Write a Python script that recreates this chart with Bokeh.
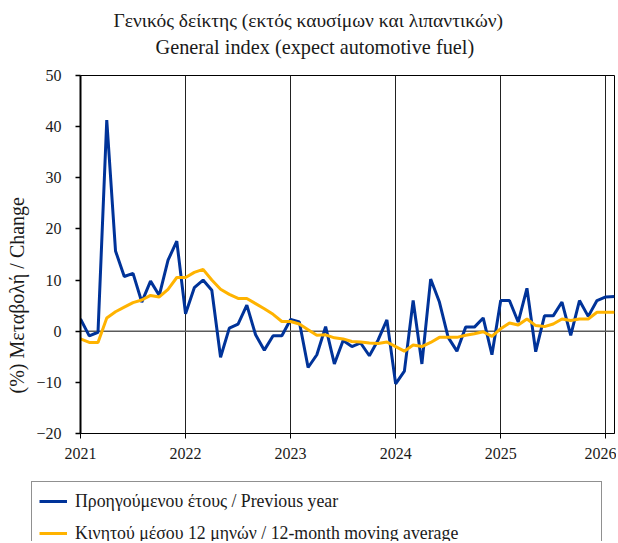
from bokeh.plotting import figure
from bokeh.layouts import column
from bokeh.models import Range1d, FixedTicker, Span, Title, Legend, LegendItem
from bokeh.embed import file_html
from bokeh.resources import INLINE

# ---------------- data ----------------
months = [f"{y}-{m:02d}" for y in range(2021, 2027) for m in range(1, 13)][:62]

previous_year = [
    2.4, -0.9, -0.2, 41.3, 15.7, 10.7, 11.3, 5.7, 9.8, 7.0, 13.9, 17.6,     # 2021
    3.4, 8.5, 10.0, 8.0, -5.1, 0.6, 1.4, 5.1, -0.7, -3.7, -0.9, -0.9,       # 2022
    2.3, 1.8, -7.1, -4.6, 0.9, -6.4, -1.8, -3.0, -2.3, -4.8, -1.7, 2.2,     # 2023
    -10.3, -7.8, 6.0, -6.4, 10.2, 5.7, -1.2, -3.9, 0.8, 0.8, 2.6, -4.6,     # 2024
    6.0, 6.0, 1.8, 8.4, -4.0, 3.0, 3.0, 5.7, -0.8, 6.0, 2.9, 6.0,           # 2025
    6.7, 6.8,                                                               # 2026
]
moving_avg_12m = [
    -1.5, -2.2, -2.2, 2.6, 3.8, 4.7, 5.6, 6.1, 7.0, 6.7, 8.2, 10.5,         # 2021
    10.5, 11.5, 12.1, 10.0, 8.2, 7.2, 6.4, 6.4, 5.4, 4.4, 3.3, 1.9,         # 2022
    1.9, 1.4, 0.3, -0.8, -0.7, -1.3, -1.5, -2.0, -2.1, -2.3, -2.4, -2.1,    # 2023
    -3.0, -3.9, -2.7, -3.0, -2.2, -1.2, -1.2, -1.2, -0.8, -0.5, -0.1, -1.0, # 2024
    0.5, 1.6, 1.2, 2.4, 1.1, 0.9, 1.4, 2.4, 2.1, 2.4, 2.4, 3.7,             # 2025
    3.7, 3.7,                                                               # 2026
]
year_labels = ["2021", "2022", "2023", "2024", "2025", "2026"]
y_ticks = [-20, -10, 0, 10, 20, 30, 40, 50]

title_gr = "Γενικός δείκτης (εκτός καυσίμων και λιπαντικών)"
title_en = "General index (expect automotive fuel)"
y_label = "(%) Μεταβολή / Change"
legend_prev = "Προηγούμενου έτους / Previous year"
legend_avg = "Κινητού μέσου 12 μηνών / 12-month moving average"

BLUE = "#003399"
ORANGE = "#FFB300"

# ---------------- main chart ----------------
FONT = "Liberation Serif"
TXT = "#1a1a1a"
x_idx = list(range(len(months)))
year_pos = [i * 12 for i in range(len(year_labels))]

p = figure(width=616, height=472, output_backend="svg", toolbar_location=None,
           x_range=Range1d(0, len(months) - 1), y_range=Range1d(-20, 50),
           min_border_left=80, min_border_right=2, min_border_top=75,
           min_border_bottom=39)
p.background_fill_color = "white"
p.border_fill_color = "white"
p.outline_line_color = "black"
p.outline_line_width = 1

# axes
p.xaxis.ticker = FixedTicker(ticks=year_pos)
p.xaxis.major_label_overrides = {pos: lab for pos, lab in zip(year_pos, year_labels)}
p.yaxis.ticker = FixedTicker(ticks=y_ticks)
for ax in (p.xaxis[0], p.yaxis[0]):
    ax.axis_line_color = "black"
    ax.major_tick_line_color = "black"
    ax.major_tick_in = 0
    ax.major_tick_out = 5
    ax.minor_tick_line_color = None
    ax.major_label_text_font = FONT
    ax.major_label_text_font_size = "16px"
    ax.major_label_text_color = TXT
p.yaxis.axis_line_width = 2
p.yaxis.major_tick_line_width = 1.5
p.yaxis.major_label_standoff = 14
p.xaxis.major_label_standoff = 9

# grids
p.ygrid.grid_line_color = None
p.xgrid.ticker = FixedTicker(ticks=year_pos)
p.xgrid.grid_line_color = "#222222"
p.xgrid.grid_line_width = 1

p.add_layout(Span(location=0, dimension="width", line_color="#5a5a5a",
                  line_width=1.5, level="underlay"))

# series
p.line(x_idx, previous_year, line_color=BLUE, line_width=3)
p.line(x_idx, moving_avg_12m, line_color=ORANGE, line_width=3)

# titles: English line hugs the frame, Greek line above it
p.add_layout(Title(text=title_en, align="left", offset=75, vertical_align="top",
                   standoff=31, text_font=FONT, text_font_size="20.3px",
                   text_font_style="normal", text_color=TXT), "above")
p.add_layout(Title(text=title_gr, align="left", offset=33, vertical_align="bottom",
                   standoff=-21, text_font=FONT, text_font_size="19.5px",
                   text_font_style="normal", text_color=TXT), "above")

# y axis label as a left-side title (reads bottom to top)
p.add_layout(Title(text=y_label, align="left", offset=40, vertical_align="top",
                   standoff=8, text_font=FONT, text_font_size="20px",
                   text_font_style="normal", text_color=TXT), "left")

# ---------------- legend strip below ----------------
pl = figure(width=616, height=69, output_backend="svg", toolbar_location=None,
            x_range=Range1d(0, 1), y_range=Range1d(0, 1),
            x_axis_location=None, y_axis_location=None,
            min_border=0)
pl.outline_line_color = None
pl.grid.grid_line_color = None
pl.background_fill_color = "white"
pl.border_fill_color = "white"
nan = float("nan")
k_prev = pl.line([nan], [nan], line_color=BLUE, line_width=3)
k_avg = pl.line([nan], [nan], line_color=ORANGE, line_width=3)

lg = Legend(items=[LegendItem(label=legend_prev, renderers=[k_prev]),
                   LegendItem(label=legend_avg, renderers=[k_avg])],
            location=(31, -12), orientation="vertical")
lg.border_line_color = "#222222"
lg.border_line_width = 1
lg.background_fill_color = "white"
lg.background_fill_alpha = 1
lg.padding = 7
lg.margin = 0
lg.spacing = 8
lg.glyph_width = 28
lg.glyph_height = 24
lg.label_height = 24
lg.label_standoff = 8
lg.label_width = 519
lg.label_text_font = FONT
lg.label_text_font_size = "17.8px"
lg.label_text_color = TXT
pl.add_layout(lg, "center")

# keep the two plot frames independent (no cross-plot edge alignment)
for fig in (p, pl):
    if "frame_align" in fig.properties():
        fig.frame_align = False

layout = column(p, pl, spacing=0)
open("out.html", "w").write(file_html(layout, INLINE))
